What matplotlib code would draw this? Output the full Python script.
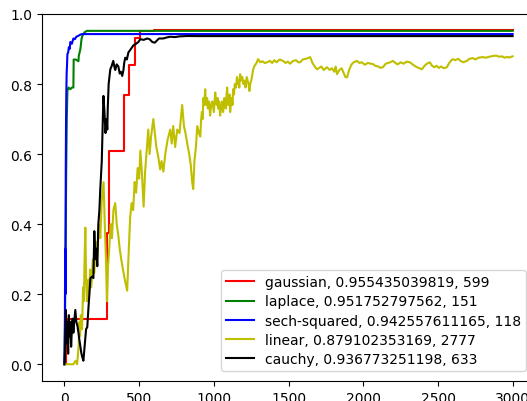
import matplotlib
matplotlib.use("Agg")
import matplotlib.pyplot as plt

# best validation score per kernel, and the step where it was reached
labels = ["gaussian", "laplace", "sech-squared", "linear", "cauchy"]
best_scores = [0.955435039819, 0.951752797562, 0.942557611165, 0.879102353169, 0.936773251198]
best_steps = [599, 151, 118, 2777, 633]
colors = ["r", "g", "b", "y", "k"]

gauss_x = [0, 8, 20, 285, 300, 400, 430, 475, 490, 505, 599, 2999]
gauss_y = [0.0, 0.05, 0.129, 0.375, 0.61, 0.768, 0.854, 0.93, 0.931, 0.951, 0.955435039819, 0.955435039819]

laplace_x = [0, 4, 8, 12, 16, 20, 27, 40, 50, 60, 62, 75, 94, 96, 107, 115, 120, 135, 151, 2999]
laplace_y = [0.0, 0.12, 0.35, 0.55, 0.70, 0.78, 0.79, 0.785, 0.79, 0.79, 0.87, 0.87, 0.865, 0.88, 0.90, 0.93, 0.937, 0.948,
             0.951752797562, 0.951752797562]

sech_x = [0, 3, 5, 7, 9, 11, 13, 15, 18, 20, 25, 30, 35, 40, 50, 60, 70, 80, 95, 107, 118, 2999]
sech_y = [0.0, 0.10, 0.33, 0.20, 0.55, 0.70, 0.78, 0.83, 0.86, 0.885, 0.89, 0.905, 0.90, 0.92, 0.915, 0.93, 0.928, 0.935,
          0.938, 0.941, 0.942557611165, 0.942557611165]

linear_x = [0, 20, 40, 60, 75, 85, 95, 100, 105, 110, 118, 125, 130, 135, 140, 145, 151, 158, 165, 172, 180, 190, 200,
            210, 220, 230, 240, 250, 262, 270, 278, 285, 292, 300, 310, 318, 328, 340, 350, 360, 370, 380, 392, 405, 420,
            430, 440, 450, 460, 470, 480, 490, 500, 508, 518, 530, 540, 554, 561, 570, 580, 595, 605, 615, 625, 641, 650,
            662, 675, 690, 708, 718, 728, 741, 755, 770, 788, 800, 810, 822, 835, 845, 855, 862, 870, 880, 889, 900, 909,
            915, 920, 925, 930, 936, 942, 946, 950, 955, 960, 968, 975, 982, 990, 1000, 1009, 1015, 1020, 1025, 1030,
            1036, 1042, 1048, 1055, 1062, 1070, 1075, 1080, 1085, 1089, 1095, 1100, 1105, 1109, 1115, 1120, 1125, 1129,
            1135, 1140, 1148, 1155, 1160, 1165, 1170, 1176, 1183, 1190, 1198, 1205, 1212, 1220, 1226, 1232, 1238, 1243,
            1250, 1255, 1262, 1270, 1285, 1296, 1310, 1325, 1340, 1356, 1375, 1390, 1405, 1420, 1440, 1463, 1480, 1495,
            1510, 1530, 1550, 1565, 1577, 1595, 1615, 1630, 1644, 1660, 1675, 1690, 1705, 1720, 1735, 1757, 1775, 1790,
            1805, 1815, 1824, 1840, 1855, 1870, 1880, 1891, 1905, 1920, 1935, 1957, 1975, 1990, 2010, 2030, 2050, 2064,
            2080, 2100, 2115, 2131, 2150, 2165, 2180, 2198, 2215, 2230, 2250, 2270, 2290, 2312, 2330, 2350, 2370, 2392,
            2410, 2425, 2445, 2460, 2475, 2490, 2505, 2520, 2540, 2559, 2575, 2590, 2599, 2615, 2635, 2650, 2670, 2693,
            2710, 2733, 2750, 2770, 2800, 2820, 2845, 2866, 2890, 2910, 2930, 2945, 2960, 2980, 2999]
linear_y = [0.0, 0.0, 0.0, 0.0, 0.01, 0.0, 0.05, 0.12, 0.08, 0.14, 0.10, 0.22, 0.18, 0.30, 0.39, 0.25, 0.18, 0.24, 0.20,
            0.27, 0.22, 0.30, 0.26, 0.35, 0.30, 0.40, 0.36, 0.47, 0.52, 0.40, 0.30, 0.18, 0.28, 0.33, 0.40, 0.36, 0.44,
            0.46, 0.40, 0.37, 0.33, 0.30, 0.27, 0.24, 0.21, 0.32, 0.42, 0.46, 0.44, 0.52, 0.49, 0.56, 0.53, 0.61, 0.55,
            0.45, 0.55, 0.63, 0.67, 0.60, 0.65, 0.70, 0.66, 0.62, 0.60, 0.556, 0.58, 0.55, 0.60, 0.64, 0.67, 0.63, 0.68,
            0.62, 0.67, 0.66, 0.74, 0.68, 0.66, 0.63, 0.60, 0.57, 0.52, 0.50, 0.58, 0.62, 0.68, 0.66, 0.65,
            0.70, 0.72, 0.70, 0.76, 0.74, 0.785, 0.75, 0.74, 0.76, 0.73, 0.75, 0.71, 0.74, 0.75, 0.72, 0.776,
            0.75, 0.74, 0.76, 0.73, 0.75, 0.71, 0.73, 0.75, 0.72, 0.76, 0.74, 0.73, 0.77, 0.79, 0.74, 0.75, 0.77, 0.72,
            0.75, 0.76, 0.74, 0.785, 0.77, 0.80, 0.79, 0.82, 0.80, 0.81, 0.79, 0.828, 0.81, 0.82, 0.80, 0.81, 0.79,
            0.82, 0.81, 0.80, 0.78, 0.80, 0.81, 0.82, 0.84, 0.85, 0.86, 0.871, 0.862, 0.865, 0.86, 0.862, 0.866, 0.86,
            0.868, 0.862, 0.87, 0.866, 0.86, 0.864, 0.858, 0.866, 0.868, 0.862, 0.862, 0.87, 0.872, 0.874, 0.877, 0.86,
            0.85, 0.842, 0.846, 0.85, 0.84, 0.848, 0.84, 0.845, 0.835, 0.85, 0.828, 0.84, 0.845, 0.83, 0.82, 0.819,
            0.84, 0.855, 0.862, 0.866, 0.86, 0.862, 0.855, 0.86, 0.858, 0.857, 0.852, 0.85, 0.846, 0.848, 0.858, 0.86,
            0.862, 0.866, 0.86, 0.856, 0.862, 0.858, 0.864, 0.862, 0.856, 0.85, 0.846, 0.842, 0.852, 0.858, 0.862,
            0.852, 0.848, 0.852, 0.846, 0.85, 0.845, 0.848, 0.86, 0.868, 0.871, 0.868, 0.872, 0.866, 0.862, 0.866,
            0.872, 0.874, 0.87, 0.875, 0.877, 0.875, 0.878, 0.880, 0.881, 0.878, 0.879, 0.875, 0.877, 0.876,
            0.879102353169]

cauchy_x = [0, 5, 10, 15, 20, 25, 30, 35, 40, 45, 50, 55, 60, 65, 73, 80, 87, 94, 100, 107, 114, 120, 127, 135, 145, 153,
            160, 167, 174, 185, 194, 200, 207, 214, 220, 227, 234, 240, 250, 261, 268, 275, 282, 287, 290, 296, 307, 315,
            327, 334, 340, 350, 361, 370, 378, 387, 395, 400, 407, 418, 428, 445, 461, 480, 495, 508, 530, 554, 570, 588,
            605, 621, 633, 662, 685, 708, 740, 770, 822, 900, 2999]
cauchy_y = [0.0, 0.04, 0.155, 0.06, 0.12, 0.03, 0.14, 0.08, 0.12, 0.05, 0.10, 0.13, 0.09, 0.12, 0.155, 0.12, 0.11, 0.09,
            0.07, 0.05, 0.03, 0.02, 0.01, 0.05, 0.10, 0.106, 0.155, 0.20, 0.246, 0.25, 0.246, 0.38, 0.30, 0.33, 0.28,
            0.40, 0.44, 0.50, 0.58, 0.766, 0.72, 0.66, 0.70, 0.67, 0.73, 0.80, 0.842, 0.85, 0.866, 0.85, 0.84, 0.856,
            0.85, 0.83, 0.835, 0.823, 0.84, 0.86, 0.875, 0.87, 0.89, 0.90, 0.91, 0.915, 0.92, 0.928, 0.926, 0.93, 0.928,
            0.92, 0.918, 0.925, 0.93, 0.93, 0.933, 0.935, 0.934, 0.936, 0.937, 0.936773251198, 0.936773251198]

series_x = [gauss_x, laplace_x, sech_x, linear_x, cauchy_x]
series_y = [gauss_y, laplace_y, sech_y, linear_y, cauchy_y]

fig = plt.figure(figsize=(5.27, 4.02), dpi=100)
ax = fig.add_axes([0.0797, 0.0498, 0.9355, 0.913])

for name, xs, ys, c, score, step in zip(labels, series_x, series_y, colors, best_scores, best_steps):
    kw = {"drawstyle": "steps-post"} if name == "gaussian" else {}
    ax.plot(xs, ys, color=c, linewidth=1.5, label=f"{name}, {score}, {step}", **kw)

ax.set_ylim(top=1.0)
ax.set_xticks([0, 500, 1000, 1500, 2000, 2500, 3000])
ax.legend(loc="lower right", bbox_to_anchor=(0.982, 0.027), borderaxespad=0,
          labelspacing=0.38, borderpad=0.35)

fig.savefig("out.png", dpi=100)
